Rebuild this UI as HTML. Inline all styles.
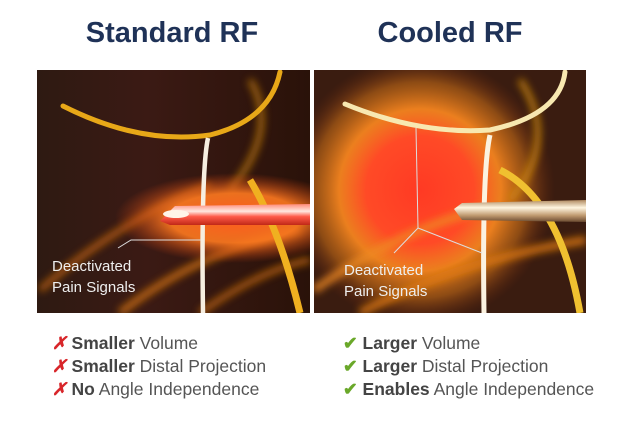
<!DOCTYPE html>
<html><head><meta charset="utf-8"><style>
body{margin:0;width:625px;height:419px;background:#fff;overflow:hidden;font-family:"Liberation Sans",sans-serif;}
</style></head><body>
<svg width="625" height="419" viewBox="0 0 625 419" xmlns="http://www.w3.org/2000/svg">
<defs>
<linearGradient id="bgL" x1="0" y1="0" x2="1" y2="0">
<stop offset="0" stop-color="#2e1a12"/><stop offset="0.4" stop-color="#3b1a14"/><stop offset="1" stop-color="#2a1209"/></linearGradient>
<radialGradient id="glowL" cx="0.5" cy="0.5" r="0.5">
<stop offset="0" stop-color="#ff5a1e"/><stop offset="0.55" stop-color="#ff7a20" stop-opacity="0.9"/><stop offset="1" stop-color="#d04010" stop-opacity="0"/></radialGradient>
<radialGradient id="glowR" cx="0.5" cy="0.5" r="0.5">
<stop offset="0" stop-color="#ff3a24"/><stop offset="0.4" stop-color="#ff4a26"/><stop offset="0.6" stop-color="#ff8a20" stop-opacity="0.9"/><stop offset="0.8" stop-color="#e07a18" stop-opacity="0.5"/><stop offset="1" stop-color="#7a2a10" stop-opacity="0"/></radialGradient>
<linearGradient id="needleL" x1="0" y1="0" x2="0" y2="1">
<stop offset="0" stop-color="#ff8a78"/><stop offset="0.35" stop-color="#ffe8e0"/><stop offset="0.6" stop-color="#ff5a48"/><stop offset="1" stop-color="#c02818"/></linearGradient>
<linearGradient id="needleR" x1="0" y1="0" x2="0" y2="1">
<stop offset="0" stop-color="#b08a60"/><stop offset="0.35" stop-color="#fff6e0"/><stop offset="0.7" stop-color="#c09a70"/><stop offset="1" stop-color="#6a4a30"/></linearGradient>
<clipPath id="cL"><rect x="37" y="70" width="273" height="243"/></clipPath>
<clipPath id="cR"><rect x="314" y="70" width="272" height="243"/></clipPath>
<filter id="bl"><feGaussianBlur stdDeviation="4"/></filter>
</defs>

<text x="172" y="42" text-anchor="middle" font-size="29" font-weight="bold" fill="#1f3257">Standard RF</text>
<text x="450" y="42" text-anchor="middle" font-size="29" font-weight="bold" fill="#1f3257">Cooled RF</text>

<!-- Left panel -->
<g clip-path="url(#cL)">
<rect x="37" y="70" width="273" height="243" fill="url(#bgL)"/>
<g filter="url(#bl)" opacity="0.8">
<path d="M40 290 Q120 220 210 185" stroke="#d06a10" stroke-width="6" fill="none"/>
<path d="M120 313 Q200 250 300 230" stroke="#e07a10" stroke-width="7" fill="none"/>
<path d="M200 313 Q260 270 310 260" stroke="#d07010" stroke-width="6" fill="none"/>
<path d="M250 80 Q280 130 230 190" stroke="#c07a10" stroke-width="6" fill="none"/>
</g>
<ellipse cx="235" cy="218" rx="120" ry="45" fill="url(#glowL)"/>
<path d="M250 180 Q280 230 300 313" stroke="#f0b020" stroke-width="7" fill="none"/>
<path d="M63 106 Q140 145 210 135 Q270 120 280 72" stroke="#e8a818" stroke-width="5" fill="none" stroke-linecap="round"/>
<path d="M208 138 Q201 170 203 313" stroke="#f6eee0" stroke-width="4.5" fill="none"/>
<path d="M160 221 L175 206 L310 204 L310 225 L170 225 Z" fill="url(#needleL)"/>
<ellipse cx="176" cy="214" rx="13" ry="4" fill="#fff4e8"/>
</g>
<polyline points="118,248 131,240 201,240" stroke="#ddd" stroke-width="1" fill="none"/>
<text x="52" y="271" font-size="15" fill="#eee">Deactivated</text>
<text x="52" y="292" font-size="15" fill="#eee">Pain Signals</text>

<!-- Right panel -->
<g clip-path="url(#cR)">
<rect x="314" y="70" width="272" height="243" fill="#3a1c10"/>
<ellipse cx="420" cy="190" rx="135" ry="135" fill="url(#glowR)"/>
<g filter="url(#bl)" opacity="0.85">
<path d="M314 290 Q400 230 480 210" stroke="#f08a20" stroke-width="8" fill="none"/>
<path d="M360 313 Q460 260 586 240" stroke="#e07a10" stroke-width="8" fill="none"/>
<path d="M520 80 Q560 140 510 200" stroke="#d08a10" stroke-width="6" fill="none"/>
</g>
<path d="M500 170 Q560 200 580 313" stroke="#f0c030" stroke-width="7" fill="none"/>
<path d="M345 104 Q420 135 490 130 Q560 115 565 72" stroke="#f8e8b0" stroke-width="5" fill="none" stroke-linecap="round"/>
<path d="M490 135 Q482 170 484 313" stroke="#fbf2e0" stroke-width="5" fill="none"/>
<path d="M454 209 L462 203 L586 200 L586 222 L462 220 Z" fill="url(#needleR)"/>
</g>
<polyline points="416,128 418,228 394,253" stroke="#ddd" stroke-width="1" fill="none"/>
<line x1="418" y1="228" x2="482" y2="253" stroke="#ddd" stroke-width="1"/>
<text x="344" y="275" font-size="15" fill="#eee">Deactivated</text>
<text x="344" y="296" font-size="15" fill="#eee">Pain Signals</text>

<!-- Lists -->
<g font-size="17.5" fill="#555">
<text x="52" y="349"><tspan fill="#d8262a" font-style="italic" font-weight="bold">✗</tspan> <tspan font-weight="bold" fill="#444">Smaller</tspan> Volume</text>
<text x="52" y="372"><tspan fill="#d8262a" font-style="italic" font-weight="bold">✗</tspan> <tspan font-weight="bold" fill="#444">Smaller</tspan> Distal Projection</text>
<text x="52" y="395"><tspan fill="#d8262a" font-style="italic" font-weight="bold">✗</tspan> <tspan font-weight="bold" fill="#444">No</tspan> Angle Independence</text>
<text x="343" y="349"><tspan fill="#6aa82a" font-weight="bold">✔</tspan> <tspan font-weight="bold" fill="#444">Larger</tspan> Volume</text>
<text x="343" y="372"><tspan fill="#6aa82a" font-weight="bold">✔</tspan> <tspan font-weight="bold" fill="#444">Larger</tspan> Distal Projection</text>
<text x="343" y="395"><tspan fill="#6aa82a" font-weight="bold">✔</tspan> <tspan font-weight="bold" fill="#444">Enables</tspan> Angle Independence</text>
</g>
</svg>
</body></html>
